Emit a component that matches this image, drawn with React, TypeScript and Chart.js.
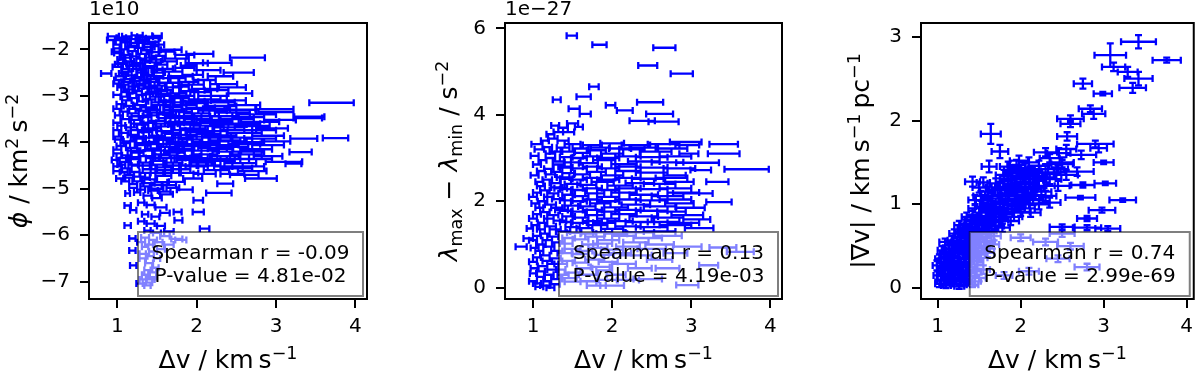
import React, { useEffect, useRef } from 'react';
import { Chart, registerables } from 'chart.js';

Chart.register(...registerables);

const FONT = '"DejaVu Sans", "Liberation Sans", sans-serif';
const BLUE = '#0000ff';

// ---------- tick values ----------
const DV_TICKS = [1, 2, 3, 4];
const PHI_TICKS = [-7, -6, -5, -4, -3, -2];
const LAMBDA_TICKS = [0, 2, 4, 6];
const GRAD_TICKS = [0, 1, 2, 3];

// ---------- statistics text ----------
const PHI_STATS = ['Spearman r = -0.09', 'P-value = 4.81e-02'];
const LAMBDA_STATS = ['Spearman r = 0.13', 'P-value = 4.19e-03'];
const GRAD_STATS = ['Spearman r = 0.74', 'P-value = 2.99e-69'];

// ---------- data: [Δv, Δv error, φ (×1e10 km² s⁻²)] ----------
const PHI_POINTS: number[][] = [
  [0.95,0.07,-1.72],[1.05,0.06,-1.75],[1.15,0.08,-1.78],[1.25,0.07,-1.70],[1.35,0.1,-1.73],[1.45,0.09,-1.76],[1.5,0.06,-1.71],
  [1.3,0.05,-1.82],[1.1,0.06,-1.85],[1.0,0.05,-1.9],[1.2,0.07,-1.92],[1.4,0.08,-1.88],[1.28,0.06,-1.97],[1.08,0.05,-2.0],
  [1.18,0.08,-1.95],[1.37,0.07,-2.02],[1.47,0.05,-1.93],
  [1.68,0.13,-2.01],[2.04,0.17,-2.10],[1.85,0.12,-2.12],[2.64,0.22,-2.18],[2.26,0.18,-2.29],[2.53,0.19,-2.50],[0.86,0.065,-2.52],
  [2.34,0.17,-2.75],[2.55,0.15,-2.95],[1.62,0.1,-2.05],[1.75,0.15,-2.2],[1.9,0.1,-2.35],
  [1.02,0.06,-2.08],[1.12,0.07,-2.12],[1.22,0.06,-2.15],[1.32,0.08,-2.1],[1.42,0.07,-2.18],[1.52,0.09,-2.14],[1.05,0.05,-2.22],
  [1.15,0.06,-2.26],[1.25,0.07,-2.3],[1.35,0.06,-2.24],[1.45,0.1,-2.28],[1.55,0.08,-2.33],[1.0,0.06,-2.38],[1.1,0.05,-2.42],
  [1.2,0.08,-2.36],[1.3,0.06,-2.45],[1.4,0.07,-2.4],[1.6,0.1,-2.42],[1.7,0.12,-2.48],[1.08,0.06,-2.52],[1.18,0.07,-2.56],
  [1.28,0.06,-2.6],[1.38,0.08,-2.55],[1.48,0.1,-2.58],[1.58,0.09,-2.62],[1.8,0.15,-2.58],
  [1.02,0.06,-2.66],[1.12,0.07,-2.7],[1.22,0.06,-2.68],[1.32,0.08,-2.74],[1.42,0.09,-2.7],[1.52,0.1,-2.78],[1.65,0.12,-2.72],
  [1.8,0.1,-2.8],[1.95,0.14,-2.76],[2.1,0.16,-2.85],[1.05,0.05,-2.82],[1.15,0.07,-2.86],[1.25,0.06,-2.9],[1.35,0.08,-2.84],
  [1.45,0.07,-2.92],[1.6,0.1,-2.88],[1.75,0.12,-2.95],[1.9,0.12,-2.9],[2.2,0.18,-3.0],[1.0,0.05,-2.98],[1.1,0.06,-3.02],
  [1.2,0.07,-3.05],[1.3,0.06,-2.98],[1.4,0.08,-3.08],[1.5,0.09,-3.02],[1.62,0.1,-3.1],[1.78,0.12,-3.05],[1.95,0.15,-3.12],
  [2.1,0.2,-3.08],[2.4,0.22,-3.1],[2.98,0.24,-3.29],[3.70,0.28,-3.15],[3.42,0.19,-3.45],[3.40,0.18,-3.48],
  [1.05,0.06,-3.18],[1.15,0.07,-3.22],[1.28,0.08,-3.2],[1.4,0.1,-3.25],[1.55,0.12,-3.2],[1.7,0.12,-3.24],[1.85,0.15,-3.2],
  [2.05,0.18,-3.26],[2.3,0.2,-3.22],[2.6,0.2,-3.2],
  [1.08,0.05,-3.34],[1.2,0.07,-3.38],[1.32,0.09,-3.32],[1.48,0.1,-3.36],[1.62,0.12,-3.4],[1.8,0.14,-3.34],[2.0,0.16,-3.38],
  [2.2,0.18,-3.32],[2.45,0.22,-3.36],[2.75,0.25,-3.4],[3.0,0.22,-3.35],
  [1.1,0.06,-3.5],[1.22,0.07,-3.52],[1.35,0.08,-3.46],[1.5,0.11,-3.54],[1.65,0.13,-3.48],[1.82,0.15,-3.56],[2.02,0.17,-3.5],
  [2.25,0.2,-3.55],[2.5,0.22,-3.5],[2.8,0.24,-3.56],[3.05,0.2,-3.52],
  [1.05,0.05,-3.64],[1.18,0.07,-3.68],[1.3,0.09,-3.62],[1.45,0.1,-3.7],[1.6,0.12,-3.66],[1.78,0.14,-3.62],[1.95,0.16,-3.7],
  [2.15,0.19,-3.64],[2.4,0.2,-3.68],[2.7,0.22,-3.65],[2.95,0.2,-3.7],
  [1.08,0.06,-3.8],[1.2,0.07,-3.84],[1.35,0.09,-3.78],[1.5,0.1,-3.86],[1.68,0.12,-3.8],[1.85,0.15,-3.84],[2.05,0.17,-3.78],
  [2.3,0.2,-3.85],[2.6,0.22,-3.8],[2.9,0.2,-3.86],[3.35,0.17,-3.92],[3.75,0.16,-3.91],
  [1.02,0.05,-3.94],[1.15,0.07,-3.98],[1.28,0.08,-3.92],[1.42,0.1,-4.0],[1.58,0.12,-3.95],[1.75,0.13,-4.0],[1.92,0.15,-3.94],
  [2.12,0.17,-4.0],[2.35,0.2,-3.96],[2.65,0.2,-4.0],[3.0,0.18,-3.98],
  [1.05,0.06,-4.08],[1.18,0.07,-4.12],[1.3,0.08,-4.06],[1.45,0.1,-4.14],[1.62,0.12,-4.1],[1.8,0.14,-4.14],[2.0,0.16,-4.08],
  [2.2,0.18,-4.12],[2.45,0.2,-4.1],[2.75,0.2,-4.15],[3.31,0.14,-4.21],
  [1.0,0.05,-4.24],[1.12,0.06,-4.28],[1.25,0.08,-4.22],[1.38,0.1,-4.3],[1.55,0.11,-4.26],[1.72,0.13,-4.22],[1.9,0.14,-4.3],
  [2.1,0.16,-4.26],[2.35,0.18,-4.3],[2.62,0.2,-4.26],[2.9,0.18,-4.3],
  [0.98,0.05,-4.38],[1.1,0.07,-4.42],[1.22,0.07,-4.36],[1.36,0.09,-4.44],[1.52,0.1,-4.4],[1.7,0.12,-4.44],[1.88,0.13,-4.38],
  [2.08,0.15,-4.44],[2.3,0.18,-4.4],[2.55,0.2,-4.45],[3.10,0.23,-4.42],[3.22,0.1,-4.46],
  [1.0,0.05,-4.52],[1.12,0.06,-4.56],[1.25,0.07,-4.5],[1.4,0.08,-4.58],[1.6,0.1,-4.54],[1.8,0.12,-4.58],[2.0,0.14,-4.52],
  [2.25,0.16,-4.6],[2.5,0.2,-4.56],[2.7,0.18,-4.62],[2.45,0.15,-4.68],
  [1.03,0.045,-4.78],[1.15,0.06,-4.7],[1.28,0.07,-4.74],[1.42,0.08,-4.8],[1.58,0.1,-4.72],[1.75,0.1,-4.85],[1.95,0.12,-4.78],
  [2.81,0.2,-4.78],[2.36,0.1,-4.89],[1.2,0.05,-4.9],[1.35,0.06,-4.95],[1.5,0.08,-5.0],[1.65,0.09,-4.92],[1.85,0.1,-5.02],
  [1.13,0.03,-5.10],[2.28,0.16,-5.09],[1.25,0.04,-5.08],[1.38,0.05,-5.15],[1.5,0.06,-5.2],[1.62,0.08,-5.12],[2.02,0.06,-5.25],
  [1.13,0.04,-5.36],[1.3,0.04,-5.3],[1.42,0.05,-5.35],[1.55,0.07,-5.4],[1.2,0.04,-5.46],[1.76,0.05,-5.50],[2.02,0.07,-5.50],
  [1.35,0.04,-5.55],[1.48,0.05,-5.6],[1.6,0.06,-5.52],[1.77,0.05,-5.68],[1.13,0.04,-5.79],[1.3,0.04,-5.7],[1.42,0.05,-5.75],
  [1.55,0.05,-5.8],[2.10,0.06,-5.86],[1.38,0.04,-5.9],[1.5,0.05,-5.95],[1.65,0.06,-5.92],
  [1.19,0.04,-6.07],[1.35,0.05,-6.05],[1.45,0.05,-6.1],[1.6,0.06,-6.02],[1.75,0.07,-6.08],[1.19,0.04,-6.33],[1.35,0.04,-6.25],
  [1.45,0.05,-6.35],[1.55,0.05,-6.3],[1.2,0.04,-6.65],[1.32,0.04,-6.5],[1.4,0.05,-6.6],[1.48,0.04,-6.7],[1.35,0.04,-6.85],
  [1.45,0.04,-6.9],[1.28,0.04,-7.04],[1.38,0.04,-7.08],[1.42,0.05,-6.95],
  [1.05,0.07,-1.8],[1.25,0.08,-1.86],[1.45,0.07,-1.84],[0.98,0.05,-2.05],[1.2,0.06,-2.04],[1.45,0.08,-2.06],
  [1.1,0.07,-2.18],[1.3,0.06,-2.2],[1.5,0.07,-2.22],[1.02,0.05,-2.32],[1.22,0.07,-2.34],[1.42,0.08,-2.36],
  [1.12,0.06,-2.48],[1.32,0.07,-2.5],[1.52,0.08,-2.5],[1.03,0.05,-2.58],[1.24,0.06,-2.62],[1.44,0.07,-2.64],
  [1.08,0.06,-2.76],[1.28,0.07,-2.78],[1.48,0.08,-2.84],[1.7,0.1,-2.82],[1.18,0.06,-2.94],[1.38,0.07,-2.96],[1.58,0.09,-2.96],[1.85,0.12,-3.0],
  [1.12,0.06,-3.1],[1.32,0.07,-3.12],[1.52,0.09,-3.14],[1.72,0.11,-3.14],[2.0,0.14,-3.16],[2.3,0.18,-3.14],
  [1.0,0.05,-3.28],[1.22,0.07,-3.28],[1.45,0.09,-3.3],[1.7,0.11,-3.3],[1.95,0.13,-3.28],[2.25,0.17,-3.28],[2.55,0.2,-3.3],
  [1.02,0.05,-3.42],[1.25,0.07,-3.44],[1.42,0.09,-3.42],[1.72,0.12,-3.44],[1.92,0.14,-3.44],[2.12,0.16,-3.44],[2.35,0.18,-3.44],[2.65,0.2,-3.46],
  [1.0,0.05,-3.58],[1.25,0.08,-3.6],[1.4,0.09,-3.58],[1.55,0.1,-3.6],[1.72,0.12,-3.58],[1.9,0.14,-3.6],[2.1,0.16,-3.58],[2.35,0.18,-3.6],[2.6,0.2,-3.6],
  [1.0,0.05,-3.74],[1.25,0.08,-3.74],[1.4,0.09,-3.74],[1.6,0.1,-3.76],[1.8,0.12,-3.74],[2.0,0.14,-3.74],[2.22,0.17,-3.76],[2.5,0.2,-3.74],[2.8,0.2,-3.74],
  [1.0,0.05,-3.88],[1.25,0.08,-3.88],[1.42,0.09,-3.9],[1.62,0.11,-3.9],[1.82,0.13,-3.9],[2.02,0.15,-3.88],[2.25,0.18,-3.9],[2.5,0.2,-3.9],[2.8,0.2,-3.92],
  [1.1,0.06,-4.02],[1.32,0.08,-4.02],[1.52,0.1,-4.04],[1.7,0.12,-4.04],[1.9,0.14,-4.04],[2.1,0.16,-4.04],[2.35,0.18,-4.06],[2.6,0.2,-4.04],[2.9,0.2,-4.06],
  [1.0,0.05,-4.16],[1.2,0.07,-4.18],[1.38,0.09,-4.18],[1.55,0.1,-4.18],[1.72,0.12,-4.18],[1.92,0.14,-4.18],[2.12,0.16,-4.18],[2.38,0.18,-4.2],[2.65,0.2,-4.2],
  [1.05,0.06,-4.34],[1.2,0.07,-4.32],[1.45,0.09,-4.34],[1.62,0.1,-4.34],[1.8,0.12,-4.34],[2.0,0.14,-4.34],[2.22,0.16,-4.36],[2.48,0.18,-4.36],[2.75,0.2,-4.36],
  [1.05,0.05,-4.48],[1.2,0.06,-4.48],[1.35,0.08,-4.5],[1.5,0.09,-4.48],[1.7,0.1,-4.5],[1.9,0.12,-4.5],[2.15,0.15,-4.5],[2.4,0.18,-4.52],[2.65,0.2,-4.52],
  [1.08,0.05,-4.64],[1.22,0.06,-4.64],[1.35,0.07,-4.66],[1.5,0.08,-4.66],[1.7,0.1,-4.66],[1.9,0.12,-4.66],[2.1,0.14,-4.68],[2.6,0.18,-4.7],
  [1.1,0.05,-4.84],[1.25,0.06,-4.84],[1.4,0.07,-4.88],[1.55,0.08,-4.86],[1.3,0.05,-5.02],[1.45,0.06,-5.04],[1.6,0.07,-5.06],
  [1.3,0.05,-6.15],[1.4,0.05,-6.2],[1.52,0.05,-6.15],[1.65,0.06,-6.2],[1.8,0.07,-6.1],[1.32,0.04,-6.4],[1.42,0.04,-6.45],
  [1.5,0.04,-6.5],[1.38,0.04,-6.75],[1.44,0.05,-6.8],[1.32,0.04,-6.95],[1.4,0.04,-7.02],
  [1.65,0.1,-2.26],[1.85,0.12,-2.4],[2.0,0.14,-2.3],[2.15,0.15,-2.45],[1.75,0.11,-2.62],[1.95,0.13,-2.55],[2.1,0.14,-2.66],
  [2.3,0.16,-2.58],[1.9,0.12,-2.7],[2.05,0.13,-2.92],[2.25,0.15,-2.88],[2.45,0.17,-2.82],[1.65,0.1,-3.0],
  [0.92,0.05,-1.8],[1.0,0.05,-1.98],[1.12,0.06,-1.72],[1.22,0.07,-1.78],[1.33,0.07,-1.8],[1.4,0.07,-1.95],[1.52,0.07,-1.9],
  [1.06,0.05,-2.3],[1.26,0.06,-2.42],[1.5,0.07,-2.44],[1.15,0.06,-2.64],[1.35,0.07,-2.66],[1.0,0.05,-2.74],[1.2,0.06,-2.8],
  [1.4,0.07,-2.8],[1.55,0.08,-2.9],[1.1,0.05,-2.92],
  [1.6,0.1,-3.36],[1.85,0.12,-3.48],[2.15,0.15,-3.52],[2.45,0.18,-3.62],[1.7,0.1,-3.82],[2.15,0.15,-3.82],[2.45,0.18,-3.98],
  [1.85,0.12,-4.08],[2.3,0.16,-4.14],[1.65,0.1,-4.28],[2.05,0.14,-4.4],[1.6,0.1,-4.6],
  [1.0,0.05,-4.62],[1.15,0.05,-4.76],[1.35,0.06,-4.76],[1.5,0.07,-4.92],[1.2,0.05,-4.98],[1.7,0.08,-4.98],
];

// ---------- data: [Δv, Δv error, λmax − λmin (×1e-27 s⁻²)] ----------
const LAMBDA_POINTS: number[][] = [
  [1.49,0.065,5.83],[1.84,0.09,5.62],[2.66,0.14,5.55],[2.45,0.12,5.14],[2.88,0.14,4.95],[1.77,0.06,4.65],[1.64,0.09,4.42],
  [1.30,0.05,4.35],[2.48,0.165,4.29],[1.98,0.06,4.22],[2.16,0.1,4.1],[1.52,0.07,4.14],[2.6,0.17,4.02],[1.66,0.07,4.02],
  [2.38,0.16,3.86],[2.65,0.19,3.84],[1.58,0.05,3.72],[3.41,0.18,3.32],[3.41,0.2,3.1],[2.93,0.2,3.37],[2.97,0.12,3.1],
  [3.08,0.27,2.89],[3.70,0.28,2.74],[3.12,0.13,2.72],[3.33,0.14,2.45],[2.79,0.14,2.6],[3.02,0.25,2.18],[3.35,0.16,1.98],
  [3.07,0.17,1.58],[2.99,0.18,1.85],[3.4,0.17,0.93],[3.62,0.17,0.83],[3.22,0.12,0.52],[2.95,0.14,0.06],[1.5,0.1,0.14],
  [1.95,0.12,0.18],[0.85,0.07,0.95],[0.94,0.06,1.14],[0.96,0.04,1.37],[1.0,0.04,0.33],
  [1.05,0.05,0.1],[1.15,0.06,0.05],[1.22,0.05,0.0],[1.1,0.05,0.25],[1.2,0.06,0.3],[1.3,0.07,0.2],[1.02,0.05,0.45],
  [1.12,0.06,0.5],[1.25,0.07,0.42],[1.35,0.08,0.55],[1.05,0.05,0.7],[1.15,0.06,0.75],[1.28,0.07,0.68],[1.4,0.09,0.8],
  [1.02,0.05,0.92],[1.1,0.06,1.0],[1.2,0.07,0.95],[1.32,0.08,1.05],[1.05,0.05,1.2],[1.15,0.06,1.25],[1.25,0.07,1.18],
  [1.38,0.09,1.3],[1.03,0.05,1.45],[1.12,0.06,1.5],[1.22,0.07,1.42],[1.34,0.08,1.55],[1.05,0.05,1.7],[1.15,0.06,1.75],
  [1.25,0.07,1.68],[1.36,0.08,1.8],[1.03,0.05,1.95],[1.12,0.06,2.0],[1.22,0.07,1.92],[1.32,0.08,2.05],[1.05,0.05,2.2],
  [1.15,0.06,2.25],[1.25,0.07,2.18],[1.35,0.08,2.3],[1.08,0.05,2.45],[1.18,0.06,2.5],[1.28,0.07,2.42],[1.38,0.08,2.55],
  [1.1,0.05,2.7],[1.2,0.06,2.75],[1.3,0.07,2.68],[1.4,0.08,2.8],[1.12,0.05,2.95],[1.22,0.06,3.0],[1.32,0.07,2.92],
  [1.08,0.06,3.2],[1.18,0.06,3.25],[1.28,0.07,3.15],[1.05,0.07,3.32],[1.25,0.06,3.45],[1.32,0.06,3.6],[1.28,0.05,3.75],
  [1.22,0.05,3.55],[1.38,0.06,3.7],[1.45,0.07,3.6],[1.5,0.07,3.8],
  [1.5,0.1,0.35],[1.7,0.12,0.3],[1.9,0.1,0.4],
  [1.45,0.08,0.62],[1.6,0.1,0.58],[1.78,0.12,0.65],[1.95,0.12,0.6],[2.15,0.15,0.55],
  [1.5,0.1,0.9],[1.65,0.1,0.85],[1.82,0.12,0.92],[2.0,0.14,0.88],[2.2,0.15,0.95],[2.5,0.18,0.9],
  [1.45,0.08,1.15],[1.6,0.1,1.12],[1.78,0.12,1.18],[1.95,0.14,1.1],[2.15,0.15,1.2],[2.45,0.18,1.15],[2.7,0.18,1.2],
  [1.5,0.09,1.4],[1.65,0.1,1.38],[1.82,0.12,1.45],[2.0,0.14,1.36],[2.2,0.16,1.42],[2.5,0.2,1.4],[2.8,0.2,1.45],[3.1,0.18,1.38],
  [1.45,0.08,1.65],[1.6,0.1,1.62],[1.78,0.12,1.68],[1.95,0.14,1.6],[2.15,0.16,1.7],[2.4,0.18,1.65],[2.7,0.2,1.62],[2.95,0.2,1.68],
  [1.5,0.1,1.9],[1.68,0.11,1.88],[1.85,0.13,1.95],[2.05,0.15,1.86],[2.3,0.18,1.92],[2.6,0.2,1.88],[2.85,0.18,1.95],
  [1.45,0.08,2.15],[1.6,0.1,2.12],[1.78,0.12,2.18],[1.95,0.14,2.1],[2.15,0.16,2.2],[2.4,0.18,2.15],[2.7,0.2,2.12],[2.9,0.2,2.2],
  [1.5,0.1,2.4],[1.68,0.12,2.38],[1.88,0.14,2.45],[2.1,0.16,2.36],[2.35,0.18,2.42],[2.6,0.2,2.4],[2.85,0.18,2.45],
  [1.45,0.08,2.65],[1.62,0.1,2.62],[1.8,0.12,2.68],[2.0,0.14,2.6],[2.2,0.16,2.7],[2.5,0.2,2.66],
  [1.5,0.1,2.9],[1.7,0.12,2.88],[1.9,0.14,2.95],[2.15,0.16,2.86],[2.4,0.2,2.92],[2.7,0.2,2.9],
  [1.45,0.08,3.15],[1.62,0.1,3.12],[1.8,0.12,3.18],[2.0,0.14,3.1],[2.25,0.16,3.2],[2.55,0.2,3.15],
  [1.5,0.1,3.32],[1.75,0.12,3.3],[2.0,0.15,3.34],[2.3,0.18,3.3],[2.65,0.2,3.32],[2.95,0.15,3.3],
  [2.3,0.2,0.75],[2.6,0.18,1.0],[2.8,0.15,0.8],[1.7,0.1,0.15],[2.05,0.12,0.3],
  [1.45,0.1,0.22],[1.65,0.1,0.45],[1.85,0.12,0.48],[1.25,0.07,0.55],
  [1.6,0.1,0.78],[1.9,0.12,0.76],[2.1,0.14,0.8],
  [1.42,0.08,1.02],[1.72,0.1,1.0],[1.88,0.12,1.02],[2.3,0.16,1.05],
  [1.52,0.09,1.27],[1.7,0.1,1.25],[1.88,0.12,1.28],[2.05,0.14,1.25],[2.35,0.18,1.28],[2.6,0.2,1.3],
  [1.42,0.08,1.52],[1.58,0.1,1.5],[1.75,0.12,1.54],[1.9,0.14,1.5],[2.1,0.16,1.54],[2.35,0.18,1.52],[2.65,0.2,1.52],[2.9,0.2,1.5],
  [1.42,0.08,1.78],[1.58,0.1,1.76],[1.75,0.12,1.8],[1.95,0.14,1.76],[2.2,0.16,1.8],[2.5,0.2,1.78],[2.75,0.18,1.76],
  [1.42,0.08,2.02],[1.58,0.1,2.0],[1.75,0.12,2.04],[1.95,0.14,2.0],[2.2,0.16,2.04],[2.5,0.2,2.02],[2.8,0.2,2.04],
  [1.42,0.08,2.28],[1.58,0.1,2.26],[1.75,0.12,2.3],[1.95,0.14,2.26],[2.2,0.16,2.3],[2.5,0.2,2.28],[2.8,0.2,2.3],
  [1.42,0.08,2.52],[1.58,0.1,2.5],[1.75,0.12,2.54],[1.95,0.14,2.5],[2.2,0.16,2.54],[2.45,0.2,2.52],[2.75,0.2,2.54],
  [1.42,0.08,2.78],[1.58,0.1,2.76],[1.75,0.12,2.8],[1.95,0.14,2.76],[2.2,0.16,2.8],[2.5,0.2,2.78],[2.85,0.2,2.76],
  [1.42,0.08,3.02],[1.58,0.1,3.0],[1.75,0.12,3.04],[1.95,0.14,3.0],[2.2,0.16,3.04],[2.5,0.2,3.02],[2.8,0.2,3.04],
  [1.38,0.08,3.24],[1.6,0.1,3.22],[1.85,0.12,3.24],[2.1,0.14,3.22],[2.4,0.18,3.24],[2.75,0.2,3.22],
  [1.0,0.05,0.6],[1.08,0.05,0.85],[1.0,0.05,1.1],[1.1,0.05,1.35],[1.0,0.05,1.6],[1.08,0.05,1.85],[1.0,0.05,2.1],
  [1.1,0.05,2.35],[1.02,0.05,2.6],[1.05,0.05,2.85],[1.02,0.05,3.05],[1.15,0.05,3.4],[1.1,0.05,0.38],[1.18,0.05,0.15],
  [2.0,0.15,0.05],[2.45,0.18,0.2],[2.7,0.15,0.45],[1.8,0.12,0.05],[2.35,0.15,0.45],[2.6,0.16,0.65],[2.95,0.18,0.95],[2.2,0.14,0.18],
  [1.0,0.05,0.15],[1.08,0.05,0.02],[1.28,0.06,0.08],[1.38,0.07,0.3],[1.18,0.06,0.62],[1.3,0.07,0.85],[1.18,0.06,1.1],
  [1.28,0.07,1.35],[1.2,0.06,1.6],[1.3,0.07,1.85],[1.2,0.06,2.1],[1.3,0.07,2.32],[1.22,0.06,2.62],[1.32,0.07,2.85],
  [1.22,0.06,3.1],[1.38,0.07,3.4],[1.42,0.08,3.02],[1.35,0.06,0.42],
];

// ---------- data: [Δv, Δv error, |∇v| (km s⁻¹ pc⁻¹), |∇v| error] ----------
const GRAD_POINTS: number[][] = [
  [3.42,0.21,2.94,0.08],[3.76,0.17,2.72,0.03],[3.08,0.19,2.78,0.14],[3.12,0.14,2.64,0.05],[3.29,0.12,2.58,0.06],
  [3.42,0.17,2.50,0.08],[3.35,0.16,2.39,0.06],[2.75,0.11,2.44,0.06],[2.99,0.11,2.32,0.02],[2.84,0.14,2.14,0.04],
  [2.88,0.14,2.08,0.06],[2.6,0.16,2.02,0.04],[2.6,0.12,1.96,0.04],[1.64,0.12,1.84,0.12],[2.56,0.12,1.81,0.05],
  [2.9,0.22,1.72,0.04],[2.94,0.1,1.67,0.05],[1.75,0.1,1.63,0.08],[2.46,0.14,1.61,0.06],[2.73,0.18,1.59,0.05],
  [3.0,0.12,1.5,0.02],[1.62,0.09,1.45,0.07],[2.68,0.2,1.39,0.05],[3.02,0.13,1.25,0.02],[2.75,0.14,1.23,0.03],
  [1.55,0.08,1.26,0.06],[2.72,0.18,1.08,0.02],[3.23,0.16,1.05,0.02],[2.98,0.16,0.93,0.03],[2.8,0.12,0.83,0.03],
  [2.5,0.15,0.73,0.03],[2.8,0.17,0.72,0.03],[3.05,0.15,0.71,0.03],[1.09,0.07,0.55,0.04],
  [2.35,0.12,1.55,0.05],[2.5,0.13,1.48,0.05],[2.3,0.14,1.62,0.05],[2.55,0.12,1.66,0.05],[2.45,0.12,1.42,0.05],
  [1.02,0.05,0.05,0.04],[1.1,0.06,0.03,0.03],[1.18,0.05,0.06,0.04],[1.26,0.06,0.02,0.03],[1.34,0.06,0.07,0.04],[1.42,0.07,0.04,0.03],
  [1.0,0.05,0.15,0.05],[1.08,0.06,0.17,0.04],[1.16,0.05,0.13,0.05],[1.24,0.06,0.16,0.04],[1.32,0.07,0.14,0.05],[1.4,0.07,0.18,0.04],[1.5,0.08,0.12,0.04],
  [0.99,0.05,0.27,0.06],[1.06,0.05,0.24,0.05],[1.14,0.06,0.28,0.05],[1.22,0.06,0.23,0.05],[1.3,0.07,0.26,0.05],[1.38,0.07,0.25,0.05],[1.47,0.08,0.28,0.05],
  [1.02,0.05,0.35,0.05],[1.1,0.06,0.37,0.05],[1.18,0.06,0.33,0.05],[1.26,0.07,0.36,0.05],[1.34,0.07,0.34,0.05],[1.42,0.08,0.38,0.05],[1.52,0.08,0.36,0.05],
  [1.05,0.05,0.45,0.05],[1.13,0.06,0.47,0.05],[1.21,0.06,0.43,0.05],[1.29,0.07,0.46,0.05],[1.37,0.07,0.44,0.05],[1.45,0.08,0.48,0.05],[1.55,0.08,0.45,0.05],
  [1.18,0.06,0.57,0.05],[1.26,0.07,0.53,0.05],[1.34,0.07,0.56,0.05],[1.42,0.08,0.54,0.05],[1.5,0.08,0.58,0.05],[1.6,0.09,0.55,0.05],
  [1.2,0.06,0.65,0.05],[1.28,0.07,0.67,0.05],[1.36,0.07,0.63,0.05],[1.44,0.08,0.66,0.05],[1.52,0.08,0.64,0.05],[1.62,0.09,0.68,0.05],
  [1.26,0.06,0.75,0.05],[1.34,0.07,0.77,0.05],[1.42,0.07,0.73,0.05],[1.5,0.08,0.76,0.05],[1.6,0.09,0.78,0.05],[1.7,0.1,0.74,0.05],
  [1.35,0.06,0.85,0.05],[1.42,0.07,0.87,0.05],[1.5,0.08,0.83,0.05],[1.6,0.09,0.86,0.05],[1.7,0.1,0.84,0.05],[1.8,0.1,0.88,0.05],[1.92,0.1,0.85,0.05],
  [1.45,0.08,0.95,0.05],[1.55,0.09,0.97,0.05],[1.65,0.09,0.93,0.05],[1.75,0.1,0.96,0.05],[1.85,0.1,0.94,0.05],[1.95,0.11,0.98,0.05],[2.05,0.12,0.95,0.05],
  [1.55,0.09,1.05,0.06],[1.65,0.1,1.07,0.06],[1.75,0.1,1.03,0.06],[1.85,0.1,1.06,0.06],[1.95,0.11,1.04,0.06],[2.05,0.12,1.08,0.06],[2.15,0.12,1.05,0.06],
  [1.6,0.09,1.15,0.06],[1.72,0.1,1.17,0.06],[1.82,0.1,1.13,0.06],[1.92,0.11,1.16,0.06],[2.02,0.12,1.14,0.06],[2.12,0.12,1.18,0.06],[2.25,0.12,1.15,0.06],
  [1.42,0.09,1.27,0.06],[1.7,0.1,1.25,0.06],[1.8,0.1,1.27,0.06],[1.9,0.11,1.23,0.06],[2.0,0.12,1.26,0.06],[2.1,0.12,1.24,0.06],[2.35,0.14,1.3,0.06],
  [1.8,0.1,1.35,0.06],[1.9,0.11,1.37,0.06],[2.0,0.12,1.33,0.06],[2.1,0.12,1.36,0.06],[2.2,0.12,1.34,0.06],[2.4,0.14,1.38,0.06],[2.55,0.14,1.35,0.06],
  [1.85,0.1,1.45,0.06],[1.95,0.11,1.47,0.06],[2.05,0.12,1.43,0.06],[2.22,0.12,1.46,0.06],[2.5,0.14,1.5,0.06],
  [2.0,0.12,0.6,0.04],[2.3,0.15,0.55,0.04],[2.6,0.16,0.5,0.04],[2.45,0.14,0.35,0.04],[2.8,0.15,0.25,0.04],[2.1,0.12,0.2,0.04],
  [1.8,0.1,0.15,0.04],[2.5,0.15,0.65,0.04],
  [1.04,0.05,0.1,0.05],[1.12,0.05,0.09,0.05],[1.2,0.06,0.1,0.05],[1.28,0.06,0.09,0.05],[1.36,0.06,0.1,0.05],[1.45,0.07,0.08,0.05],
  [1.04,0.05,0.2,0.05],[1.12,0.05,0.21,0.05],[1.2,0.06,0.2,0.05],[1.28,0.06,0.2,0.05],[1.36,0.06,0.21,0.05],[1.45,0.07,0.2,0.05],[1.55,0.08,0.22,0.05],
  [1.04,0.05,0.31,0.05],[1.12,0.05,0.3,0.05],[1.2,0.06,0.31,0.05],[1.28,0.06,0.3,0.05],[1.38,0.06,0.31,0.05],[1.48,0.07,0.32,0.05],
  [1.08,0.05,0.41,0.05],[1.16,0.05,0.4,0.05],[1.24,0.06,0.41,0.05],[1.32,0.06,0.4,0.05],[1.4,0.06,0.41,0.05],[1.5,0.07,0.4,0.05],[1.6,0.08,0.42,0.05],
  [1.14,0.05,0.51,0.05],[1.22,0.05,0.5,0.05],[1.3,0.06,0.51,0.05],[1.38,0.06,0.5,0.05],[1.46,0.06,0.51,0.05],[1.56,0.07,0.5,0.05],[1.66,0.08,0.52,0.05],
  [1.24,0.05,0.61,0.05],[1.32,0.05,0.6,0.05],[1.4,0.06,0.61,0.05],[1.48,0.06,0.6,0.05],[1.58,0.07,0.61,0.05],[1.68,0.08,0.62,0.05],
  [1.3,0.06,0.71,0.05],[1.38,0.06,0.7,0.05],[1.46,0.07,0.71,0.05],[1.55,0.07,0.7,0.05],[1.65,0.08,0.71,0.05],[1.78,0.09,0.72,0.05],
  [1.4,0.07,0.81,0.05],[1.48,0.07,0.8,0.05],[1.56,0.08,0.81,0.05],[1.66,0.08,0.8,0.05],[1.76,0.09,0.81,0.05],[1.88,0.1,0.8,0.05],
  [1.5,0.08,0.9,0.05],[1.6,0.08,0.91,0.05],[1.7,0.09,0.9,0.05],[1.8,0.1,0.91,0.05],[1.9,0.1,0.9,0.05],[2.0,0.11,0.91,0.05],[2.12,0.12,0.9,0.05],
  [1.6,0.09,1.0,0.06],[1.7,0.09,1.01,0.06],[1.8,0.1,1.0,0.06],[1.9,0.1,1.01,0.06],[2.0,0.11,1.0,0.06],[2.1,0.12,1.01,0.06],[2.22,0.12,1.0,0.06],[2.35,0.13,1.02,0.06],
  [1.66,0.09,1.1,0.06],[1.76,0.1,1.11,0.06],[1.86,0.1,1.1,0.06],[1.96,0.11,1.11,0.06],[2.06,0.12,1.1,0.06],[2.18,0.12,1.11,0.06],[2.3,0.13,1.1,0.06],
  [1.75,0.1,1.2,0.06],[1.85,0.1,1.21,0.06],[1.95,0.11,1.2,0.06],[2.05,0.12,1.21,0.06],[2.17,0.12,1.2,0.06],[2.28,0.13,1.22,0.06],[2.45,0.14,1.22,0.06],
  [1.85,0.1,1.3,0.06],[1.95,0.11,1.31,0.06],[2.05,0.12,1.3,0.06],[2.15,0.12,1.31,0.06],[2.3,0.13,1.32,0.06],
  [1.9,0.1,1.4,0.06],[2.0,0.11,1.41,0.06],[2.12,0.12,1.4,0.06],[2.3,0.13,1.42,0.06],
  [1.98,0.11,1.52,0.06],[2.1,0.12,1.5,0.06],[1.52,0.09,1.1,0.06],[1.45,0.08,1.05,0.06],[1.5,0.08,1.2,0.06],
];

// ---------- axis titles (text, kind: 0 normal, 1 italic, 2 superscript, 3 subscript) ----------
type Seg = [string, number];
const DV_LABEL: Seg[] = [['Δv / km\u2009s', 0], ['−1', 2]];
const PHI_LABEL: Seg[] = [['ϕ', 1], [' / km', 0], ['2', 2], ['\u2009s', 0], ['−2', 2]];
const LAMBDA_LABEL: Seg[] = [['λ', 1], ['max', 3], [' − ', 0], ['λ', 1], ['min', 3], [' / s', 0], ['−2', 2]];
const GRAD_LABEL: Seg[] = [['|∇v| / km\u2009s', 0], ['−1', 2], ['\u2009pc', 0], ['−1', 2]];

const TICK_SIZE = 20;
const LABEL_SIZE = 25;
const BOX_SIZE = 20;

function segFont(kind: number, size: number) {
  const s = kind >= 2 ? size * 0.7 : size;
  return (kind === 1 ? 'italic ' : '') + s.toFixed(1) + 'px ' + FONT;
}

function drawRich(ctx: CanvasRenderingContext2D, segs: Seg[], x: number, y: number, size: number, rotated: boolean) {
  ctx.save();
  ctx.translate(x, y);
  if (rotated) ctx.rotate(-Math.PI / 2);
  ctx.textBaseline = 'alphabetic';
  ctx.textAlign = 'left';
  ctx.fillStyle = '#000';
  const widths = segs.map(([t, k]) => {
    ctx.font = segFont(k, size);
    return ctx.measureText(t).width;
  });
  const total = widths.reduce((a, b) => a + b, 0);
  let cx = -total / 2;
  segs.forEach(([t, k], i) => {
    ctx.font = segFont(k, size);
    const dy = k === 2 ? -size * 0.36 : k === 3 ? size * 0.2 : 0;
    ctx.fillText(t, cx, dy);
    cx += widths[i];
  });
  ctx.restore();
}

interface PanelSpec {
  points: number[][];
  hasYErr: boolean;
  xMin: number; xMax: number; yMin: number; yMax: number;
  yTicks: number[];
  left: number; rightPad: number;
  yLabel: Seg[]; yLabelX: number;
  offsetText: string | null;
  stats: string[];
  boxW: number;
}

const PLOT_TOP = 23;
const PLOT_BOTTOM = 299;
const H = 373;
const W = 400;

const PANELS: PanelSpec[] = [
  { points: PHI_POINTS, hasYErr: false, xMin: 0.643, xMax: 4.147, yMin: -7.372, yMax: -1.434, yTicks: PHI_TICKS,
    left: 89, rightPad: 33, yLabel: PHI_LABEL, yLabelX: 27, offsetText: '1e10', stats: PHI_STATS, boxW: 225 },
  { points: LAMBDA_POINTS, hasYErr: false, xMin: 0.646, xMax: 4.147, yMin: -0.261, yMax: 6.123, yTicks: LAMBDA_TICKS,
    left: 105, rightPad: 18, yLabel: LAMBDA_LABEL, yLabelX: 57, offsetText: '1e\u221227', stats: LAMBDA_STATS, boxW: 219 },
  { points: GRAD_POINTS, hasYErr: true, xMin: 0.799, xMax: 4.086, yMin: -0.131, yMax: 3.164, yTicks: GRAD_TICKS,
    left: 121, rightPad: 1, yLabel: GRAD_LABEL, yLabelX: 69, offsetText: null, stats: GRAD_STATS, boxW: 220 },
];

const fmtTick = (v: number | string) => String(v).replace('-', '\u2212');

function makeChart(canvas: HTMLCanvasElement, p: PanelSpec) {
  const CAP = 3.5;
  const errPlugin = {
    id: 'errbars',
    afterDatasetsDraw(chart: any) {
      const { ctx, chartArea, scales } = chart;
      const sx = scales.x, sy = scales.y;
      ctx.save();
      ctx.beginPath();
      ctx.rect(chartArea.left, chartArea.top, chartArea.right - chartArea.left, chartArea.bottom - chartArea.top);
      ctx.clip();
      ctx.strokeStyle = BLUE;
      ctx.lineWidth = 2.3;
      ctx.beginPath();
      for (const pt of p.points) {
        const x0 = sx.getPixelForValue(pt[0] - pt[1]);
        const x1 = sx.getPixelForValue(pt[0] + pt[1]);
        const yc = sy.getPixelForValue(pt[2]);
        ctx.moveTo(x0, yc); ctx.lineTo(x1, yc);
        ctx.moveTo(x0, yc - CAP); ctx.lineTo(x0, yc + CAP);
        ctx.moveTo(x1, yc - CAP); ctx.lineTo(x1, yc + CAP);
        if (p.hasYErr) {
          const xc = sx.getPixelForValue(pt[0]);
          const y0 = sy.getPixelForValue(pt[2] - pt[3]);
          const y1 = sy.getPixelForValue(pt[2] + pt[3]);
          ctx.moveTo(xc, y0); ctx.lineTo(xc, y1);
          ctx.moveTo(xc - CAP, y0); ctx.lineTo(xc + CAP, y0);
          ctx.moveTo(xc - CAP, y1); ctx.lineTo(xc + CAP, y1);
        }
      }
      ctx.stroke();
      ctx.restore();
    },
  };
  const decoPlugin = {
    id: 'deco',
    afterDraw(chart: any) {
      const { ctx, chartArea } = chart;
      const { left, right, top, bottom } = chartArea;
      ctx.save();
      ctx.strokeStyle = '#000';
      ctx.lineWidth = 2;
      ctx.strokeRect(left, top, right - left, bottom - top);
      // statistics box
      ctx.font = BOX_SIZE + 'px ' + FONT;
      const tw = Math.max(...p.stats.map((s) => ctx.measureText(s).width));
      const bw = p.boxW;
      const fs = Math.min(BOX_SIZE, (BOX_SIZE * (bw - 24)) / tw);
      const bh = 64;
      const bx = right - 4 - bw;
      const by = bottom - 3 - bh;
      ctx.fillStyle = 'rgba(255,255,255,0.5)';
      ctx.fillRect(bx, by, bw, bh);
      ctx.strokeStyle = 'rgba(0,0,0,0.5)';
      ctx.lineWidth = 2;
      ctx.strokeRect(bx, by, bw, bh);
      ctx.fillStyle = '#000';
      ctx.font = fs.toFixed(2) + 'px ' + FONT;
      ctx.textAlign = 'center';
      ctx.textBaseline = 'alphabetic';
      ctx.fillText(p.stats[0], bx + bw / 2, by + 27);
      ctx.fillText(p.stats[1], bx + bw / 2, by + 49.6);
      if (p.offsetText) {
        ctx.font = TICK_SIZE + 'px ' + FONT;
        ctx.textAlign = 'left';
        ctx.fillText(p.offsetText, left, 15);
      }
      ctx.restore();
      drawRich(ctx, DV_LABEL, (left + right) / 2, 368, LABEL_SIZE, false);
      drawRich(ctx, p.yLabel, p.yLabelX, (top + bottom) / 2, LABEL_SIZE, true);
    },
  };

  const tickFont = { family: FONT, size: TICK_SIZE };
  const grid = { drawOnChartArea: false, drawTicks: true, tickLength: 9, color: '#000', lineWidth: 2 };

  return new Chart(canvas, {
    type: 'scatter',
    data: {
      datasets: [{ data: p.points.map((pt) => ({ x: pt[0], y: pt[2] })), pointRadius: 0, showLine: false }],
    },
    options: {
      animation: false,
      responsive: false,
      events: [],
      layout: { padding: { top: PLOT_TOP, right: p.rightPad, left: 0, bottom: 0 } },
      plugins: { legend: { display: false }, tooltip: { enabled: false } },
      scales: {
        x: {
          type: 'linear', min: p.xMin, max: p.xMax,
          afterBuildTicks: (s: any) => { s.ticks = DV_TICKS.map((v) => ({ value: v })); },
          afterFit: (s: any) => { s.height = H - PLOT_BOTTOM; },
          grid, border: { display: false },
          ticks: { font: tickFont, color: '#000', padding: 7, maxRotation: 0, autoSkip: false, callback: (v: any) => fmtTick(v) },
        },
        y: {
          type: 'linear', min: p.yMin, max: p.yMax,
          afterBuildTicks: (s: any) => { s.ticks = p.yTicks.map((v) => ({ value: v })); },
          afterFit: (s: any) => { s.width = p.left; },
          grid, border: { display: false },
          ticks: { font: tickFont, color: '#000', padding: 10, autoSkip: false, callback: (v: any) => fmtTick(v) },
        },
      },
    } as any,
    plugins: [errPlugin, decoPlugin],
  });
}

export default function App() {
  const refs = [useRef<HTMLCanvasElement>(null), useRef<HTMLCanvasElement>(null), useRef<HTMLCanvasElement>(null)];
  useEffect(() => {
    document.body.style.margin = '0';
    const charts = PANELS.map((p, i) => makeChart(refs[i].current as HTMLCanvasElement, p));
    return () => charts.forEach((c) => c.destroy());
  }, []);
  return (
    <div style={{ position: 'absolute', left: 0, top: 0, width: 1200, height: H, background: '#fff' }}>
      {PANELS.map((_, i) => (
        <canvas key={i} ref={refs[i]} width={W} height={H}
          style={{ position: 'absolute', left: i * W, top: 0, width: W, height: H, display: 'block' }} />
      ))}
    </div>
  );
}
